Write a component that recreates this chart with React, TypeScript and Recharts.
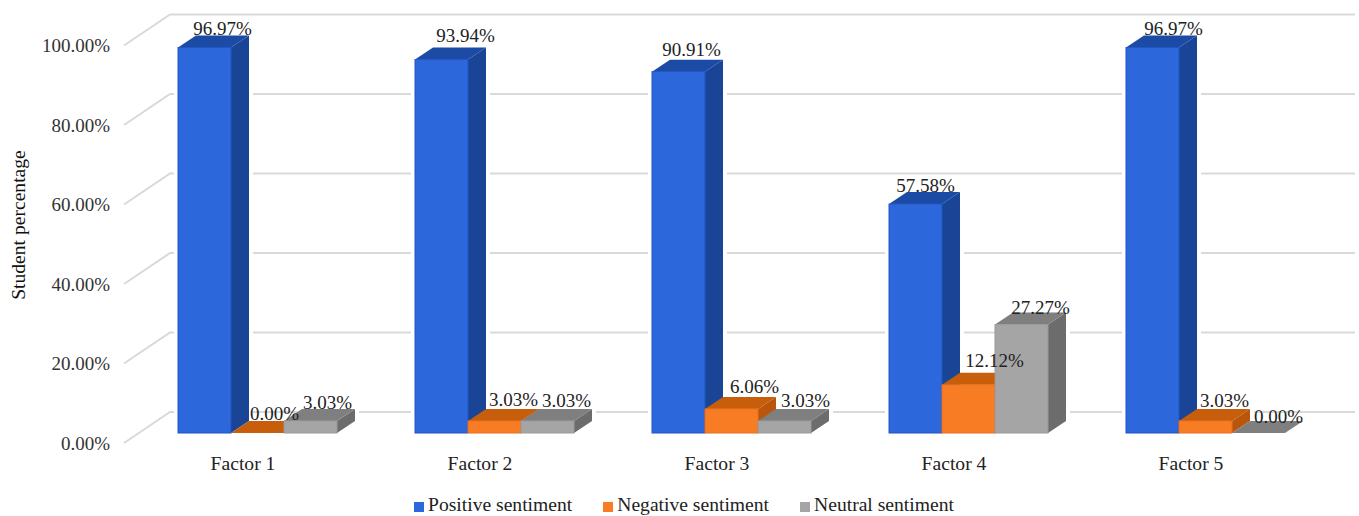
import React from 'react';
import { BarChart, Bar, XAxis, YAxis, CartesianGrid, Legend, Label } from 'recharts';

const factors = ['Factor 1', 'Factor 2', 'Factor 3', 'Factor 4', 'Factor 5'];
const seriesNames = ['Positive sentiment', 'Negative sentiment', 'Neutral sentiment'];
const positive = [96.97, 93.94, 90.91, 57.58, 96.97];
const negative = [0, 3.03, 6.06, 12.12, 3.03];
const neutral = [3.03, 3.03, 3.03, 27.27, 0];
const yTicks = [0, 20, 40, 60, 80, 100];

const data = factors.map((name, i) => ({
  name,
  positive: positive[i],
  negative: negative[i],
  neutral: neutral[i],
}));

const FONT = '"Liberation Serif", "Times New Roman", serif';
const FONT_SIZE = 19;
const TITLE_SIZE = 19.6;

// 3D look: how far the side and top faces recede
const DEPTH_X = 18;
const DEPTH_Y = 12;

const BLUE = { front: '#2c68dc', side: '#1a4596', top: '#1c4ba6', edge: '#1f55c4' };
const ORANGE = { front: '#f77c24', side: '#b9560c', top: '#c75e0c', edge: '#e8701c' };
const GRAY = { front: '#a5a5a5', side: '#6c6c6c', top: '#7f7f7f', edge: '#9a9a9a' };

// label offsets from the bar's top centre, one pair per factor
const positiveNudge = [[18, -19], [24, -24], [13, -22], [10, -19], [21, -19]];
const negativeNudge = [[17, -20], [19, -21], [23, -22], [26, -24], [19, -20]];
const neutralNudge = [[17, -18], [19, -20], [21, -20], [19, -17], [20, -17]];

type Faces = typeof BLUE;

const bar3d = (faces: Faces, haloLeft: boolean) => (props: any) => {
  const { x, y, width, height } = props;
  const r = x + width;
  const b = y + height;
  return (
    <g>
      {/* keeps grid lines from touching the bar */}
      <line x1={r + DEPTH_X + 2} y1={y - DEPTH_Y} x2={r + DEPTH_X + 2} y2={b - DEPTH_Y} stroke="#fff" strokeWidth={4} />
      {haloLeft && <line x1={x - 2} y1={y} x2={x - 2} y2={b} stroke="#fff" strokeWidth={4} />}
      <polygon
        points={`${r},${y} ${r + DEPTH_X},${y - DEPTH_Y} ${r + DEPTH_X},${b - DEPTH_Y} ${r},${b}`}
        fill={faces.side}
      />
      <polygon
        points={`${x},${y} ${x + DEPTH_X},${y - DEPTH_Y} ${r + DEPTH_X},${y - DEPTH_Y} ${r},${y}`}
        fill={faces.top}
      />
      <rect x={x} y={y} width={width} height={height} fill={faces.front} stroke={faces.edge} strokeWidth={1} />
    </g>
  );
};

// drawn by a second pass of bars so the text sits above every 3D bar
const valueLabel = (values: number[], nudge: number[][]) => (props: any) => {
  const { x, y, width, index } = props;
  const [dx, dy] = nudge[index];
  return (
    <text
      x={x + width / 2 + dx}
      y={y + dy}
      textAnchor="middle"
      dominantBaseline="central"
      fontFamily={FONT}
      fontSize={FONT_SIZE}
      fill="#222"
    >
      {values[index].toFixed(2)}%
    </text>
  );
};

const YTick = (props: any) => (
  <text x={110} y={props.y + 10} textAnchor="end" dominantBaseline="central" fontFamily={FONT} fontSize={FONT_SIZE} fill="#333">
    {props.payload.value.toFixed(2)}%
  </text>
);

const XTick = (props: any) => (
  <text x={props.x - 14} y={463} textAnchor="middle" dominantBaseline="central" fontFamily={FONT} fontSize={TITLE_SIZE} fill="#222">
    {props.payload.value}
  </text>
);

// grid line: diagonal along the side wall, then straight along the back wall
const gridLine = (props: any) => {
  const y = props.y1;
  return (
    <path
      key={props.key ?? y}
      d={`M124 ${y + 10} L170 ${y - 21} L1355 ${y - 21}`}
      fill="none"
      stroke="#d9d9d9"
      strokeWidth={2}
    />
  );
};

const axisTitle = () => (
  <text
    transform="translate(18 225) rotate(-90)"
    textAnchor="middle"
    dominantBaseline="central"
    fontFamily={FONT}
    fontSize={TITLE_SIZE}
    fill="#111"
  >
    Student percentage
  </text>
);

const legendText = (value: string) => (
  <span style={{ color: '#222', fontFamily: FONT, fontSize: TITLE_SIZE, paddingRight: 21 }}>{value}</span>
);

export default function App() {
  return (
    <div style={{ position: 'absolute', left: 0, top: 0, width: 1359, height: 516 }}>
      <BarChart
        width={1359}
        height={516}
        data={data}
        barGap={0}
        barCategoryGap="16.67%"
        margin={{ top: 35.5, right: 35.5, bottom: 60, left: 0 }}
      >
        <CartesianGrid vertical={false} horizontal={gridLine} />
        <XAxis dataKey="name" axisLine={false} tickLine={false} tick={XTick} height={1} interval={0} />
        <YAxis domain={[0, 100]} ticks={yTicks} width={138.5} axisLine={false} tickLine={false} tick={YTick}>
          <Label content={axisTitle} />
        </YAxis>
        <Legend
          iconType="square"
          iconSize={10}
          formatter={legendText}
          itemSorter={(item: any) => seriesNames.indexOf(item.value)}
          wrapperStyle={{ left: 414, top: 494, width: 'auto', bottom: 'auto', padding: 0 }}
        />

        <Bar dataKey="positive" name={seriesNames[0]} fill={BLUE.front} shape={bar3d(BLUE, true)} isAnimationActive={false} />
        <Bar dataKey="negative" name={seriesNames[1]} fill={ORANGE.front} shape={bar3d(ORANGE, false)} isAnimationActive={false} />
        <Bar dataKey="neutral" name={seriesNames[2]} fill={GRAY.front} shape={bar3d(GRAY, false)} isAnimationActive={false} />

        <XAxis xAxisId="labels" dataKey="name" hide />
        <Bar xAxisId="labels" dataKey="positive" legendType="none" shape={valueLabel(positive, positiveNudge)} isAnimationActive={false} />
        <Bar xAxisId="labels" dataKey="negative" legendType="none" shape={valueLabel(negative, negativeNudge)} isAnimationActive={false} />
        <Bar xAxisId="labels" dataKey="neutral" legendType="none" shape={valueLabel(neutral, neutralNudge)} isAnimationActive={false} />
      </BarChart>
    </div>
  );
}
